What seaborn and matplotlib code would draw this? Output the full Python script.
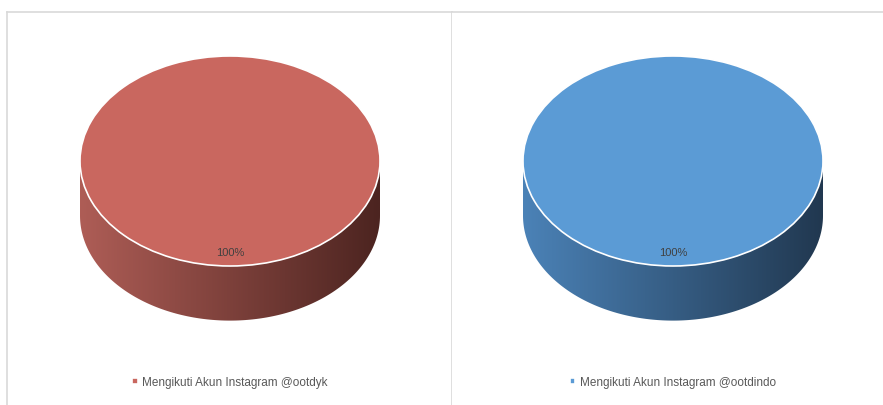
import numpy as np
import matplotlib
matplotlib.use("Agg")
import matplotlib.pyplot as plt
import seaborn as sns
from matplotlib.patches import Polygon
from matplotlib.colors import LinearSegmentedColormap

# data
labels = ["Mengikuti Akun Instagram @ootdyk", "Mengikuti Akun Instagram @ootdindo"]
values = [[100], [100]]
top_colors = ["#C9675F", "#5B9BD5"]
side_left = ["#AE5D56", "#4B82B7"]
side_right = ["#4C2420", "#213850"]

sns.set_theme(style="white")
plt.rcParams["font.family"] = ["Liberation Sans", "DejaVu Sans"]

W, H = 883, 406
fig = plt.figure(figsize=(W / 100, H / 100), dpi=100)

# panel boxes in pixels: (left, right), pie centre x
panels = [(7, 452, 230), (452, 890, 673)]
cy, rx, ry = 162, 150, 105
depth = 0.52

for i, (x0, x1, cx) in enumerate(panels):
    ax = fig.add_axes([x0 / W, 0, (x1 - x0) / W, (H - 13) / H])
    wedges, _, autotexts = ax.pie(
        values[i], colors=[top_colors[i]], startangle=90, radius=1,
        autopct="%d%%", pctdistance=0.87,
        wedgeprops=dict(edgecolor="white", linewidth=1.2),
        textprops=dict(color="#404040", fontsize=8),
    )
    wedges[0].set_zorder(3)
    for t in autotexts:
        t.set_zorder(4)

    # side of the cylinder with a horizontal gradient
    th = np.linspace(np.pi, 2 * np.pi, 200)
    ex, ey = np.cos(th), np.sin(th)
    verts = np.concatenate([np.c_[ex, ey], np.c_[ex[::-1], ey[::-1] - depth]])
    side = Polygon(verts, closed=True, facecolor="none", edgecolor="none")
    ax.add_patch(side)
    cmap = LinearSegmentedColormap.from_list("s", [side_left[i], side_right[i]])
    grad = np.linspace(0, 1, 256)[None, :]
    im = ax.imshow(grad, cmap=cmap, extent=[-1, 1, -1 - depth, 0],
                   aspect="auto", zorder=2)
    im.set_clip_path(side)

    ax.set_aspect("auto")
    ax.set_xlim((x0 - cx) / rx, (x1 - cx) / rx)
    ax.set_ylim((cy - H) / ry, (cy - 13) / ry)

    ax.set_frame_on(True)
    ax.spines["bottom"].set_visible(False)
    for s in ["top", "left", "right"]:
        ax.spines[s].set_visible(True)
        ax.spines[s].set_color("#D9D9D9")
        ax.spines[s].set_linewidth(1.2)
    if i == 1:
        ax.spines["left"].set_visible(False)

    ax.legend(wedges, [labels[i]], loc="center",
              bbox_to_anchor=((cx - x0) / (x1 - x0), (H - 383) / (H - 13)),
              frameon=False, fontsize=8.5, labelcolor="#595959",
              handlelength=0.45, handleheight=0.45, handletextpad=0.4)

fig.savefig("out.png", dpi=100)
